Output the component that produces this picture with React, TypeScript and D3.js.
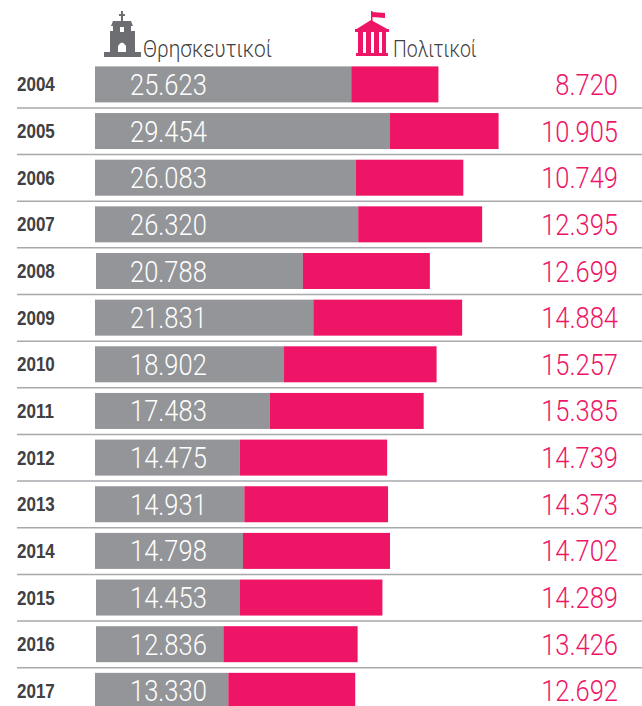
import React from "react";
import * as d3 from "d3";

const years = ["2004","2005","2006","2007","2008","2009","2010","2011","2012","2013","2014","2015","2016","2017"];
const religious = [25623,29454,26083,26320,20788,21831,18902,17483,14475,14931,14798,14453,12836,13330];
const civil = [8720,10905,10749,12395,12699,14884,15257,15385,14739,14373,14702,14289,13426,12692];
const legendLabels = ["Θρησκευτικοί","Πολιτικοί"];

const GREY = "#939598";
const PINK = "#ee1566";
const FONT = "'Liberation Sans', sans-serif";
const LIGHT = "Roboto, 'Liberation Sans', sans-serif";
const fmt = (v: number) => d3.format(",")(v).replace(",", ".");
const insetYears = new Set(["2008", "2015", "2016"]);

export default function App() {
  const x = d3.scaleLinear().domain([0, 1000]).range([0, 10]);
  const y = d3.scaleBand().domain(years).range([66.4, 66.4 + 46.65 * 13 + 36]).paddingInner(10.65 / 46.65).paddingOuter(0);
  const bh = y.bandwidth();
  return (
    <svg width={642} height={706} style={{ position: "absolute", left: 0, top: 0, background: "#fff" }}>
      <g fill="#6d6e71">
        <rect x={121} y={11} width={2} height={10} />
        <rect x={119} y={14} width={6} height={2} />
        <path d="M113 21 L131 21 L133 26 L111 26 Z" />
        <path fillRule="evenodd" d="M110 31 L135 31 L135 52 L141 52 L141 57 L104 57 L104 52 L110 52 Z M118 52 L126 52 L126 46 Q122 39 118 46 Z" />
        <rect x={113} y={26} width={18} height={6} />
      </g>
      <rect x={120} y={27} width={4} height={5} fill="#fff" />
      <g fill={PINK}>
        <rect x={371} y={11} width={1.5} height={10} />
        <path d="M372 12 L385 13 L385 18 L372 17 Z" />
        <path d="M371 20 L389 30 L355 30 Z" />
        <rect x={355} y={29} width={34} height={3} />
        <rect x={358} y={32} width={5} height={21} />
        <rect x={366} y={32} width={5} height={21} />
        <rect x={374} y={32} width={5} height={21} />
        <rect x={382} y={32} width={4} height={21} />
        <rect x={356} y={53} width={32} height={3} />
      </g>
      <text transform="translate(143,57) scale(0.87,1)" fontFamily={LIGHT} fontWeight={300} fontSize={24} fill="#414042">{legendLabels[0]}</text>
      <text transform="translate(393,57) scale(0.81,1)" fontFamily={LIGHT} fontWeight={300} fontSize={24} fill="#414042">{legendLabels[1]}</text>

      {years.map((yr, i) => {
        const top = y(yr)!;
        const mid = top + bh / 2;
        const r = x(religious[i]);
        const c = x(civil[i]);
        const inset = insetYears.has(yr) ? 1 : 0;
        return (
          <g key={yr}>
            {i < years.length - 1 && (
              <line x1={17} x2={642} y1={top + bh + 5.5} y2={top + bh + 5.5} stroke="#a7a9ac" strokeWidth={1.5} />
            )}
            <text transform={`translate(17,${mid + 7}) scale(0.85,1)`} fontFamily={FONT} fontWeight={700} fontSize={20} fill="#414042">{yr}</text>
            <rect x={95 + inset} y={top} width={r - inset} height={bh} fill={GREY} />
            <rect x={95 + r} y={top} width={c} height={bh} fill={PINK} />
            <text transform={`translate(130,${mid + 10.5}) scale(0.85,1)`} fontFamily={LIGHT} fontWeight={300} fontSize={30} fill="#fff">{fmt(religious[i])}</text>
            <text transform={`translate(618,${mid + 10.5}) scale(0.85,1)`} textAnchor="end" fontFamily={LIGHT} fontWeight={300} fontSize={30} fill={PINK}>{fmt(civil[i])}</text>
          </g>
        );
      })}
    </svg>
  );
}
